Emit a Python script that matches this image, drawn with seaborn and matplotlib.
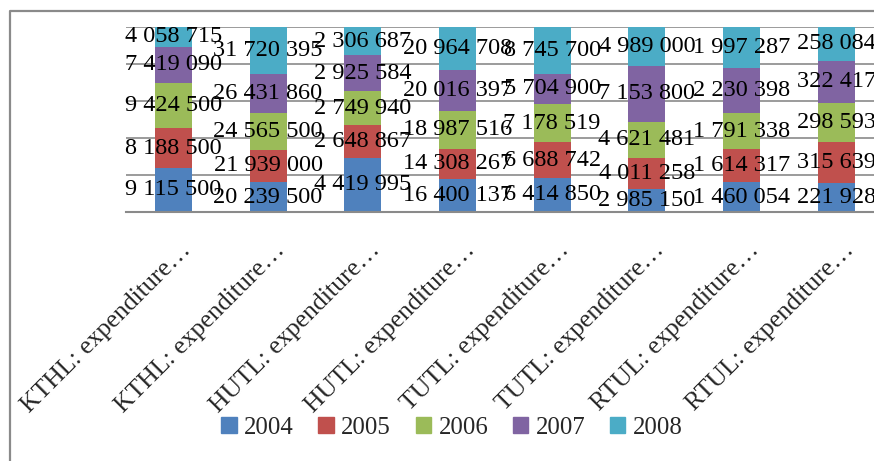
import matplotlib
matplotlib.use("Agg")
import matplotlib.pyplot as plt
import matplotlib.transforms as mtransforms
from matplotlib.lines import Line2D
import seaborn as sns
import pandas as pd
import numpy as np

categories = ["KTHL: expenditure…", "KTHL: expenditure…", "HUTL: expenditure…",
              "HUTL: expenditure…", "TUTL: expenditure…", "TUTL: expenditure…",
              "RTUL: expenditure…", "RTUL: expenditure…"]
years = ["2004", "2005", "2006", "2007", "2008"]
v2004 = [9115500, 20239500, 4419995, 16400137, 6414850, 2985150, 1460054, 221928]
v2005 = [8188500, 21939000, 2648867, 14308267, 6688742, 4011258, 1614317, 315639]
v2006 = [9424500, 24565500, 2749940, 18987516, 7178519, 4621481, 1791338, 298593]
v2007 = [7419090, 26431860, 2925584, 20016397, 5704900, 7153800, 2230398, 322417]
v2008 = [4058715, 31720395, 2306687, 20964708, 8745700, 4989000, 1997287, 258084]
colors = ["#4F81BD", "#C0504D", "#9BBB59", "#8064A2", "#4BACC6"]

series = [v2004, v2005, v2006, v2007, v2008]
totals = np.sum(np.array(series, dtype=float), axis=0)

sns.set_style("white")
plt.rcParams["font.family"] = ["Liberation Serif", "DejaVu Serif"]
FS_DATA = 17.5
FS_TICK = 18.5
FS_LEG = 17.8

fig = plt.figure(figsize=(8.74, 4.61), dpi=100)
W, H = 874, 461
ax = fig.add_axes([126 / W, 1 - 212 / H, 757.6 / W, 185 / H])

keys = [str(i) for i in range(len(categories))]
bottom = np.zeros(len(categories))
handles = []
for yr, vals, col in zip(years, series, colors):
    share = np.array(vals, dtype=float) / totals
    df = pd.DataFrame({"cat": keys, "share": share})
    sns.barplot(data=df, x="cat", y="share", order=keys, color=col,
                width=0.39, bottom=bottom, errorbar=None, ax=ax,
                linewidth=0, saturation=1, zorder=2)
    handles.append(plt.Rectangle((0, 0), 1, 1, color=col, label=yr))
    for i, (v, s, b) in enumerate(zip(vals, share, bottom)):
        ax.text(i, b + s / 2, f"{v:,}".replace(",", " "), ha="center",
                va="center", fontsize=FS_DATA, color="black", zorder=5,
                clip_on=False)
    bottom = bottom + share

ax.set_xlim(-0.5, len(categories) - 0.5)
ax.set_ylim(0, 1)
ax.set_yticks([0.2, 0.4, 0.6, 0.8, 1.0])
ax.yaxis.grid(True, color="#8a8a8a", linewidth=1.2, zorder=0)
ax.set_axisbelow(True)
ax.tick_params(axis="y", left=False, labelleft=False)
for s in ["left", "right", "top"]:
    ax.spines[s].set_visible(False)
ax.spines["bottom"].set_color("#8a8a8a")
ax.spines["bottom"].set_linewidth(1.5)
ax.set_xlabel("")
ax.set_ylabel("")

ax.set_xticks(range(len(categories)))
ax.set_xticklabels(categories, rotation=45, ha="right", va="center",
                   rotation_mode="anchor", fontsize=FS_TICK)
ax.tick_params(axis="x", which="major", length=0, pad=0)
ax.set_xticks(np.arange(-0.5, len(categories), 1.0), minor=True)
ax.tick_params(axis="x", which="minor", length=8, width=1.5,
               color="#8a8a8a", direction="out")
off = mtransforms.ScaledTranslation(14 / 100, -35 / 100, fig.dpi_scale_trans)
for lab in ax.get_xticklabels():
    lab.set_transform(lab.get_transform() + off)

fig.legend(handles=handles, loc="center", bbox_to_anchor=(452 / W, 1 - 428 / H),
           ncol=5, frameon=False, fontsize=FS_LEG, handlelength=0.62,
           handleheight=0.62, handletextpad=0.3, columnspacing=1.0,
           borderaxespad=0, borderpad=0)

# chart frame (left and top edges visible)
fig.add_artist(Line2D([10 / W, 10 / W, 1.0], [0, 1 - 11 / H, 1 - 11 / H],
                      transform=fig.transFigure, color="#8a8a8a", linewidth=1.6))

fig.savefig("out.png", dpi=100)
